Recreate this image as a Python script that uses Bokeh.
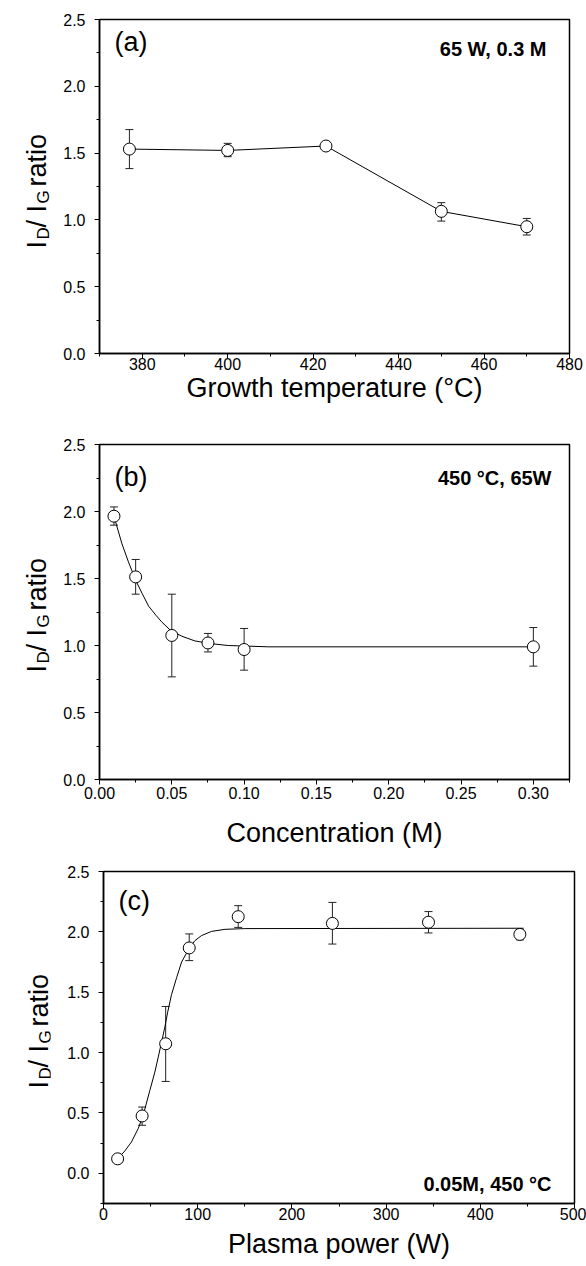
import math
from bokeh.plotting import figure
from bokeh.models import (ColumnDataSource, Whisker, TeeHead, FixedTicker,
                          PrintfTickFormatter, Label, Range1d)
from bokeh.layouts import column, row
from bokeh.embed import file_html
from bokeh.resources import INLINE

FONT = "Liberation Sans"

# ---------------- data: panel (a) ----------------
a_temp = [377, 400, 423, 450, 470]
a_ratio = [1.530, 1.520, 1.553, 1.064, 0.949]
a_upper = [1.676, 1.573, 1.580, 1.129, 1.011]
a_lower = [1.384, 1.473, 1.526, 0.991, 0.887]

# ---------------- data: panel (b) ----------------
b_conc = [0.010, 0.025, 0.050, 0.075, 0.100, 0.300]
b_ratio = [1.965, 1.512, 1.075, 1.019, 0.970, 0.990]
b_upper = [2.034, 1.642, 1.383, 1.090, 1.127, 1.134]
b_lower = [1.898, 1.383, 0.766, 0.952, 0.816, 0.846]
b_fit_x = [0.010, 0.0155, 0.020, 0.025, 0.0295, 0.034, 0.039, 0.043,
           0.049, 0.057, 0.066, 0.076, 0.089, 0.117, 0.300]
b_fit_y = [1.965, 1.760, 1.624, 1.487, 1.388, 1.293, 1.226, 1.176,
           1.114, 1.069, 1.034, 1.015, 1.000, 0.990, 0.990]

# ---------------- data: panel (c) ----------------
c_power = [15, 41, 66, 91, 143, 243, 345, 442]
c_ratio = [0.120, 0.475, 1.073, 1.867, 2.126, 2.070, 2.080, 1.979]
c_upper = [0.140, 0.549, 1.382, 1.983, 2.217, 2.244, 2.168, 2.016]
c_lower = [0.100, 0.398, 0.761, 1.762, 2.037, 1.899, 1.991, 1.934]
c_fit_x = [15, 22.6, 29.7, 36.8, 42.1, 49.2, 54.5, 58.1, 62.3, 65.1, 68.0,
           72.2, 77.6, 82.9, 90.6, 97, 104, 114.7, 128.9, 150, 446]
c_fit_y = [0.120, 0.185, 0.260, 0.370, 0.480, 0.687, 0.838, 0.962, 1.110,
           1.210, 1.330, 1.480, 1.620, 1.750, 1.858, 1.927, 1.969, 2.004,
           2.021, 2.027, 2.030]

# tick definitions
a_xticks = [380, 400, 420, 440, 460, 480]
a_xminor = [370, 390, 410, 430, 450, 470]
b_xticks = [0.00, 0.05, 0.10, 0.15, 0.20, 0.25, 0.30]
b_xminor = [0.025, 0.075, 0.125, 0.175, 0.225, 0.275, 0.325]
c_xticks = [0, 100, 200, 300, 400, 500]
c_xminor = [50, 150, 250, 350, 450]
ab_yticks = [0.0, 0.5, 1.0, 1.5, 2.0, 2.5]
ab_yminor = [0.25, 0.75, 1.25, 1.75, 2.25]
c_yticks = [0.0, 0.5, 1.0, 1.5, 2.0, 2.5]
c_yminor = [-0.25, 0.25, 0.75, 1.25, 1.75, 2.25]

LAB_W = 50      # horizontal room taken by the rotated y label column
LAB_CANVAS = 100  # canvas width of that column (overlapped by the panel)

# pieces of the rotated label "I_D/ I_G ratio": text, font px, subscript shift, start px
YLAB_PIECES = [("I", 27, 0, 0), ("D", 17, 7, 9), ("/ I", 27, 0, 21),
               ("G", 17, 7, 45), ("ratio", 27, 0, 62)]


def make_ylab(height, yr, btop, bbot, base_x, start_px):
    # row layouts align plot frames, so this figure's frame shares the
    # panel's vertical frame; use the panel's y range and pixel offsets.
    q = figure(width=LAB_CANVAS, height=height, output_backend="svg",
               toolbar_location=None, x_axis_type=None, y_axis_type=None,
               x_range=Range1d(0, LAB_CANVAS), y_range=Range1d(*yr),
               min_border_left=0, min_border_right=0,
               min_border_top=btop, min_border_bottom=bbot,
               margin=(0, LAB_W - LAB_CANVAS, 0, 0))
    q.outline_line_color = None
    q.xgrid.visible = False
    q.ygrid.visible = False
    q.background_fill_alpha = 0
    q.border_fill_alpha = 0
    for txt, sz, sub, start in YLAB_PIECES:
        q.add_layout(Label(x=base_x + sub, y=yr[0], y_offset=start_px + start,
                           text=txt, angle=math.pi / 2, text_font=FONT,
                           text_font_size=f"{sz}px", text_color="black",
                           text_align="left", text_baseline="alphabetic"))
    return q


def make_panel(xs, ys, up, lo, lx, ly, xr, yr, xt, xm, yt, ym, xfmt,
               height, btop, bbot, bleft, bright,
               tag, tag_dy, note, note_dx, note_dy, note_from_top,
               xlabel, xl_std, x_std):
    p = figure(width=586 - LAB_W, height=height, output_backend="svg",
               toolbar_location=None, min_border_top=btop,
               min_border_bottom=bbot, min_border_left=bleft,
               min_border_right=bright,
               x_range=Range1d(*xr), y_range=Range1d(*yr))
    p.xgrid.visible = False
    p.ygrid.visible = False
    p.outline_line_color = "black"
    p.outline_line_width = 1.5
    p.outline_line_alpha = 1
    p.background_fill_color = "white"
    p.border_fill_color = "white"

    p.xaxis.ticker = FixedTicker(ticks=xt, minor_ticks=xm)
    p.yaxis.ticker = FixedTicker(ticks=yt, minor_ticks=ym)
    p.xaxis.formatter = PrintfTickFormatter(format=xfmt)
    p.yaxis.formatter = PrintfTickFormatter(format="%.1f")
    for ax in (p.xaxis[0], p.yaxis[0]):
        ax.axis_line_width = 1.5
        ax.axis_line_color = "black"
        ax.major_tick_in = 0
        ax.major_tick_out = 5
        ax.minor_tick_in = 0
        ax.minor_tick_out = 3
        ax.major_tick_line_color = "black"
        ax.minor_tick_line_color = "black"
        ax.major_label_text_font = FONT
        ax.major_label_text_font_size = "16px"
        ax.major_label_text_color = "black"
    p.xaxis.major_label_standoff = x_std
    p.yaxis.major_label_standoff = 9
    p.xaxis.axis_label = xlabel
    p.xaxis.axis_label_text_font = FONT
    p.xaxis.axis_label_text_font_size = "27px"
    p.xaxis.axis_label_text_font_style = "normal"
    p.xaxis.axis_label_text_color = "black"
    p.xaxis.axis_label_standoff = xl_std

    src = ColumnDataSource(dict(x=xs, y=ys, upper=up, lower=lo))
    p.add_layout(Whisker(source=src, base="x", upper="upper", lower="lower",
                         line_color="#222222", line_width=1,
                         upper_head=TeeHead(size=8, line_color="#222222", line_width=1),
                         lower_head=TeeHead(size=8, line_color="#222222", line_width=1)))
    p.line(lx, ly, line_color="black", line_width=1)
    p.scatter("x", "y", source=src, marker="circle", size=12,
              fill_color="white", line_color="black", line_width=1)

    # panel tag
    p.add_layout(Label(x=xr[0], y=yr[1], x_offset=15, y_offset=tag_dy, text=tag,
                       text_font=FONT, text_font_size="27px", text_color="black",
                       text_align="left", text_baseline="top"))
    # conditions note
    p.add_layout(Label(x=xr[1], y=(yr[1] if note_from_top else yr[0]),
                       x_offset=note_dx, y_offset=note_dy, text=note,
                       text_font=FONT, text_font_size="20px", text_font_style="bold",
                       text_color="black", text_align="right",
                       text_baseline="alphabetic"))
    return p


pa = make_panel(a_temp, a_ratio, a_upper, a_lower, a_temp, a_ratio,
                (370, 480), (0, 2.5), a_xticks, a_xminor, ab_yticks, ab_yminor, "%d",
                420, 19, 67, 99 - LAB_W, 17,
                "(a)", -7, "65 W, 0.3 M", -23, -29, True,
                "Growth temperature (°C)", 0, -1)

pb = make_panel(b_conc, b_ratio, b_upper, b_lower, b_fit_x, b_fit_y,
                (0, 0.325), (0, 2.5), b_xticks, b_xminor, ab_yticks, ab_yminor, "%.2f",
                430, 24, 71, 99 - LAB_W, 17,
                "(b)", -17, "450 °C, 65W", -18, -33, True,
                "Concentration (M)", 16, 2)

pc = make_panel(c_power, c_ratio, c_upper, c_lower, c_fit_x, c_fit_y,
                (0, 500), (-0.25, 2.5), c_xticks, c_xminor, c_yticks, c_yminor, "%d",
                416, 21, 63, 103 - LAB_W, 12,
                "(c)", -14, "0.05M, 450 °C", -23, 20, False,
                "Plasma power (W)", 6, -1)

la = make_ylab(420, (0, 2.5), 19, 67, 36, 105)
lb = make_ylab(430, (0, 2.5), 24, 71, 36, 107)
lc = make_ylab(416, (-0.25, 2.5), 21, 63, 38, 115)

layout = column(row(la, pa, spacing=0), row(lb, pb, spacing=0),
                row(lc, pc, spacing=0), spacing=0)
open("out.html", "w").write(file_html(layout, INLINE))
